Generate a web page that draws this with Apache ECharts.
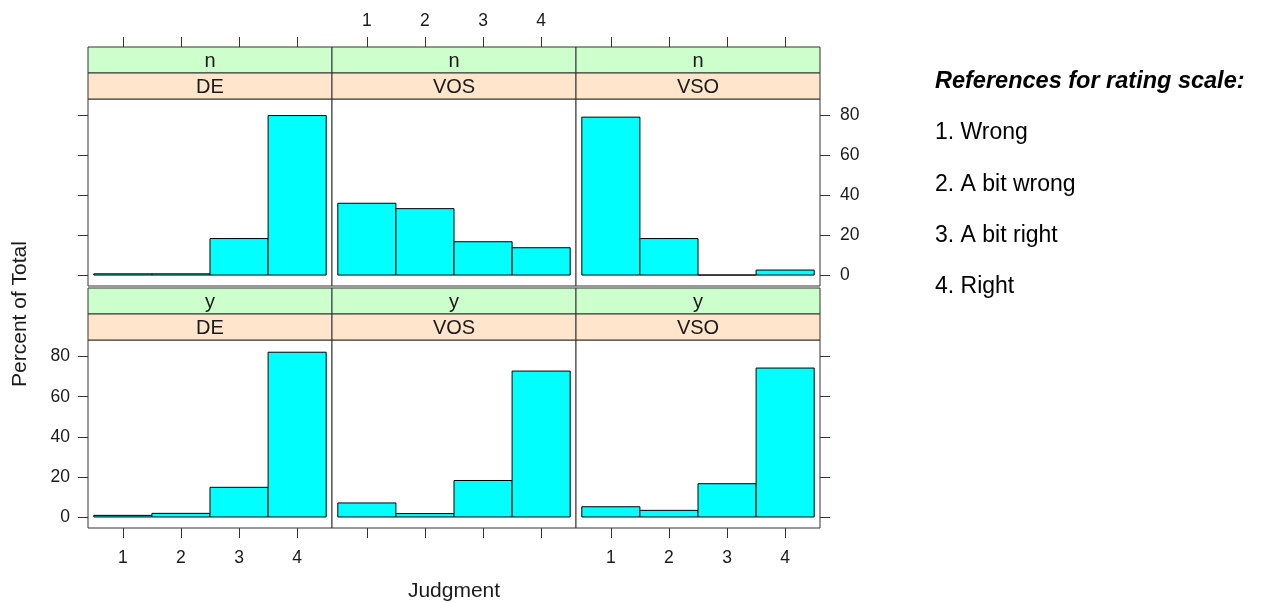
<!DOCTYPE html>
<html>
	<head>
		<meta charset="utf-8">
		<title>Judgment histogram</title>
		<script src="https://cdn.jsdelivr.net/npm/echarts@6.0.0/dist/echarts.min.js"></script>
		<style>
			html, body { margin: 0; padding: 0; background: #fff; }
			#main { width: 1264px; height: 603px; }
		</style>
	</head>
	<body>
		<div id="main"></div>
		<script type="text/javascript">
			// 数据: 每个面板 4 个评分 (1-4) 的百分比
			var judgments = [1, 2, 3, 4];
			var groups = ['DE', 'VOS', 'VSO'];
			var answers = ['n', 'y'];
			var yTicks = [0, 20, 40, 60, 80];

			var pctN_DE = [0.6, 0.6, 18.3, 80.0];
			var pctN_VOS = [36.0, 33.3, 16.7, 13.7];
			var pctN_VSO = [79.2, 18.3, 0, 2.5];
			var pctY_DE = [0.8, 1.8, 14.8, 82.2];
			var pctY_VOS = [7.0, 1.7, 18.2, 72.8];
			var pctY_VSO = [5.1, 3.3, 16.6, 74.3];

			var panelValues = [
				[pctN_DE, pctN_VOS, pctN_VSO],
				[pctY_DE, pctY_VOS, pctY_VSO]
			];

			var legendTitle = 'References for rating scale:';
			var legendItems = ['1. Wrong', '2. A bit wrong', '3. A bit right', '4. Right'];

			var font = "'Liberation Sans', Arial, sans-serif";
			var ink = '#1a1a1a';

			// 面板位置
			var colLeft = [88, 332, 576];
			var colWidth = 244;
			var rowTop = [99, 340];
			var rowHeight = [187, 188];
			var stripH = 26;

			var myChart = echarts.init(document.getElementById('main'));

			var grids = [], xAxes = [], yAxes = [], series = [], graphics = [];

			function renderBar(params, api) {
				var x = api.value(0), y = api.value(1);
				var p0 = api.coord([x - 0.5, y]);
				var p1 = api.coord([x + 0.5, 0]);
				return {
					type: 'rect',
					shape: { x: p0[0], y: p0[1], width: p1[0] - p0[0], height: p1[1] - p0[1] },
					style: { fill: '#00FFFF', stroke: '#000', lineWidth: 1 }
				};
			}

			for (var r = 0; r < 2; r++) {
				for (var c = 0; c < 3; c++) {
					var i = r * 3 + c;
					grids.push({
						left: colLeft[c], top: rowTop[r], width: colWidth, height: rowHeight[r],
						show: true, borderColor: '#333', borderWidth: 1, backgroundColor: '#fff'
					});
					xAxes.push({
						gridIndex: i, type: 'value', min: 0.4, max: 4.6,
						position: r === 0 ? 'top' : 'bottom',
						// 上排的刻度画在条带上方
						offset: r === 0 ? 2 * stripH : 0,
						axisLine: { show: false, onZero: false },
						splitLine: { show: false },
						axisTick: { show: true, length: 10, customValues: judgments, lineStyle: { color: '#333' } },
						axisLabel: {
							show: r === 0 ? c === 1 : c !== 1,
							customValues: judgments, margin: r === 0 ? 17 : 21,
							fontSize: 17.5, color: ink, fontFamily: font
						}
					});
					yAxes.push({
						gridIndex: i, type: 'value', min: -5.5, max: 88.3,
						show: c !== 1,
						position: c === 2 ? 'right' : 'left',
						axisLine: { show: false, onZero: false },
						splitLine: { show: false },
						axisTick: { show: true, length: 10, customValues: yTicks, lineStyle: { color: '#333' } },
						axisLabel: {
							show: (r === 0 && c === 2) || (r === 1 && c === 0),
							customValues: yTicks, margin: c === 2 ? 20 : 18,
							fontSize: 17.5, color: ink, fontFamily: font
						}
					});
					var vals = panelValues[r][c];
					series.push({
						type: 'custom',
						xAxisIndex: i, yAxisIndex: i,
						renderItem: renderBar,
						data: judgments.map(function (j, k) { return [j, vals[k]]; })
					});

					// 条带 (strip): 上绿 下橙
					var sTop = rowTop[r] - 2 * stripH;
					graphics.push({
						type: 'rect', shape: { x: colLeft[c], y: sTop, width: colWidth, height: stripH },
						style: { fill: '#CCFFCC', stroke: '#333', lineWidth: 1 }
					});
					graphics.push({
						type: 'rect', shape: { x: colLeft[c], y: sTop + stripH, width: colWidth, height: stripH },
						style: { fill: '#FFE5CC', stroke: '#333', lineWidth: 1 }
					});
					graphics.push({
						type: 'text', x: colLeft[c] + colWidth / 2, y: sTop + stripH / 2 + 1,
						style: { text: answers[r], fill: ink, font: '20px ' + font, align: 'center', verticalAlign: 'middle' }
					});
					graphics.push({
						type: 'text', x: colLeft[c] + colWidth / 2, y: sTop + stripH * 1.5 + 1,
						style: { text: groups[c], fill: ink, font: '20px ' + font, align: 'center', verticalAlign: 'middle' }
					});
				}
			}

			// 坐标轴标题
			graphics.push({
				type: 'text', x: 20, y: 314, rotation: Math.PI / 2,
				style: { text: 'Percent of Total', fill: ink, font: '21px ' + font, align: 'center', verticalAlign: 'middle' }
			});
			graphics.push({
				type: 'text', x: 454, y: 591,
				style: { text: 'Judgment', fill: ink, font: '21px ' + font, align: 'center', verticalAlign: 'middle' }
			});

			// 右侧说明
			graphics.push({
				type: 'text', x: 935, y: 82,
				style: { text: legendTitle, fill: '#000', font: 'italic bold 23.5px ' + font, align: 'left', verticalAlign: 'middle' }
			});
			legendItems.forEach(function (t, k) {
				graphics.push({
					type: 'text', x: 935, y: 133 + k * 51.3,
					style: { text: t, fill: '#000', font: '23px ' + font, align: 'left', verticalAlign: 'middle' }
				});
			});

			var option = {
				animation: false,
				backgroundColor: '#fff',
				grid: grids,
				xAxis: xAxes,
				yAxis: yAxes,
				series: series,
				graphic: { elements: graphics }
			};

			option && myChart.setOption(option);
		</script>
	</body>
</html>
